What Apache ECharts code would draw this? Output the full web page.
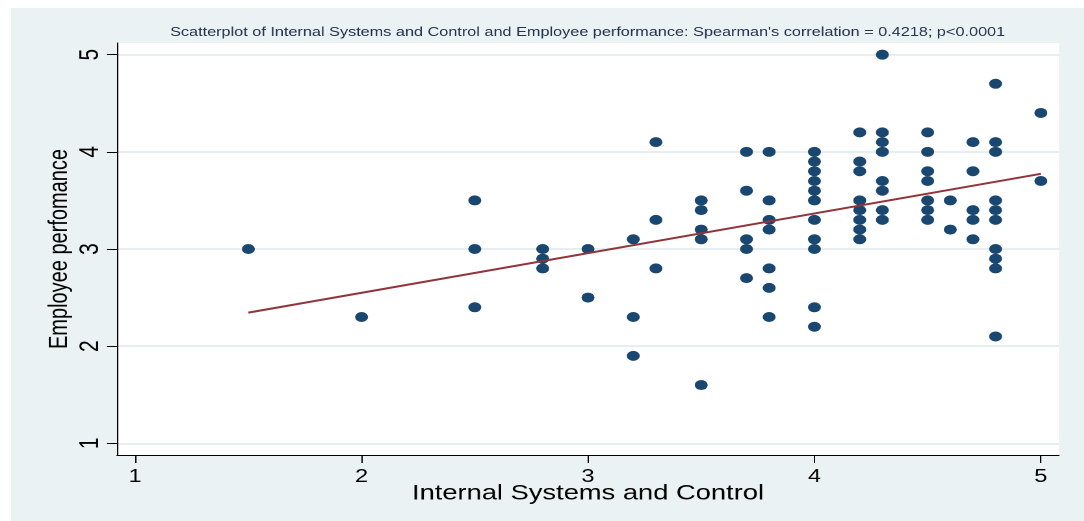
<!DOCTYPE html>
<html>
<head>
<meta charset="utf-8">
<script src="https://cdn.jsdelivr.net/npm/echarts@6/dist/echarts.min.js"></script>
<style>
  html, body { margin: 0; padding: 0; background: #ffffff; overflow: hidden; }
  /* the chart is laid out on a narrower canvas and widened, giving the
     stretched look of the exported figure (round markers become ovals) */
  #chart { width: 834px; height: 521px; transform: scaleX(1.3); transform-origin: 0 0; }
</style>
</head>
<body>
<div id="chart"></div>
<script>
// Internal Systems and Control score of each respondent
const controlScores = [
  1.5,
  2.0,
  2.5, 2.5, 2.5,
  2.8, 2.8, 2.8,
  3.0, 3.0,
  3.2, 3.2, 3.2,
  3.3, 3.3, 3.3,
  3.5, 3.5, 3.5, 3.5, 3.5,
  3.7, 3.7, 3.7, 3.7, 3.7,
  3.8, 3.8, 3.8, 3.8, 3.8, 3.8, 3.8,
  4.0, 4.0, 4.0, 4.0, 4.0, 4.0, 4.0, 4.0, 4.0, 4.0, 4.0,
  4.2, 4.2, 4.2, 4.2, 4.2, 4.2, 4.2, 4.2,
  4.3, 4.3, 4.3, 4.3, 4.3, 4.3, 4.3, 4.3,
  4.5, 4.5, 4.5, 4.5, 4.5, 4.5, 4.5,
  4.6, 4.6,
  4.7, 4.7, 4.7, 4.7, 4.7,
  4.8, 4.8, 4.8, 4.8, 4.8, 4.8, 4.8, 4.8, 4.8, 4.8,
  5.0, 5.0
];

// Employee performance score of the same respondents
const performanceScores = [
  3.0,
  2.3,
  3.5, 3.0, 2.4,
  3.0, 2.9, 2.8,
  3.0, 2.5,
  3.1, 2.3, 1.9,
  4.1, 3.3, 2.8,
  3.5, 3.4, 3.2, 3.1, 1.6,
  4.0, 3.6, 3.1, 3.0, 2.7,
  4.0, 3.5, 3.3, 3.2, 2.8, 2.6, 2.3,
  4.0, 3.9, 3.8, 3.7, 3.6, 3.5, 3.3, 3.1, 3.0, 2.4, 2.2,
  4.2, 3.9, 3.8, 3.5, 3.4, 3.3, 3.2, 3.1,
  5.0, 4.2, 4.1, 4.0, 3.7, 3.6, 3.4, 3.3,
  4.2, 4.0, 3.8, 3.7, 3.5, 3.4, 3.3,
  3.5, 3.2,
  4.1, 3.8, 3.4, 3.3, 3.1,
  4.7, 4.1, 4.0, 3.5, 3.4, 3.3, 3.0, 2.9, 2.8, 2.1,
  4.4, 3.7
];

// Linear fit, drawn between its two end points
const fitX = [1.5, 5.0];
const fitY = [2.345, 3.774];

// Axis tick values
const xTicks = [1, 2, 3, 4, 5];
const yTicks = [1, 2, 3, 4, 5];

const titleText = "Scatterplot of Internal Systems and Control and Employee performance: Spearman's correlation = 0.4218; p<0.0001";

const FONT = "'Liberation Sans', Arial, Helvetica, sans-serif";
const BG = '#eaf2f3';

const chart = echarts.init(document.getElementById('chart'), null, { renderer: 'canvas', devicePixelRatio: 2 });

const scatterData = controlScores.map((x, i) => [x, performanceScores[i]]);
const fitData = fitX.map((x, i) => [x, fitY[i]]);

chart.setOption({
  backgroundColor: BG,
  animation: false,
  title: {
    text: titleText,
    left: 452,
    top: 26,
    textAlign: 'center',
    padding: 0,
    textStyle: { fontFamily: FONT, fontSize: 12.5, fontWeight: 'normal', color: '#24324e' }
  },
  graphic: [
    { type: 'rect', shape: { x: 0, y: 0, width: 834, height: 8 }, style: { fill: '#ffffff' }, silent: true },
    { type: 'rect', shape: { x: 0, y: 0, width: 8.5, height: 521 }, style: { fill: '#ffffff' }, silent: true }
  ],
  grid: {
    left: 90,
    right: 19.4,
    top: 43,
    bottom: 66,
    show: true,
    backgroundColor: '#ffffff',
    borderWidth: 0
  },
  xAxis: {
    type: 'value',
    min: 0.92,
    max: 5.08,
    name: 'Internal Systems and Control',
    nameLocation: 'middle',
    nameGap: 28,
    nameMoveOverlap: false,
    nameTextStyle: { fontFamily: FONT, fontSize: 21, color: '#000000' },
    axisLine: { show: true, onZero: false, lineStyle: { color: '#000000', width: 1 } },
    axisTick: { show: true, length: 8, customValues: xTicks, lineStyle: { color: '#000000', width: 1 } },
    axisLabel: { customValues: xTicks, margin: 13, fontFamily: FONT, fontSize: 18, color: '#000000' },
    splitLine: { show: false }
  },
  yAxis: {
    type: 'value',
    min: 0.88,
    max: 5.12,
    name: 'Employee perfomance',
    nameLocation: 'middle',
    nameRotate: 90,
    nameGap: 34,
    nameMoveOverlap: false,
    nameTextStyle: { fontFamily: FONT, fontSize: 20, color: '#000000' },
    axisLine: { show: true, onZero: false, lineStyle: { color: '#000000', width: 1 } },
    axisTick: { show: true, length: 7.7, customValues: yTicks, lineStyle: { color: '#000000', width: 1 } },
    axisLabel: { customValues: yTicks, rotate: 90, margin: 10, fontFamily: FONT, fontSize: 21, color: '#000000' },
    splitLine: { show: true, lineStyle: { color: '#e6eef0', width: 2 } }
  },
  series: [
    {
      type: 'scatter',
      data: scatterData,
      symbol: 'circle',
      symbolSize: 10,
      itemStyle: { color: '#1a476f', opacity: 1 },
      z: 2
    },
    {
      type: 'line',
      data: fitData,
      symbol: 'none',
      lineStyle: { color: '#90353b', width: 2 },
      z: 3
    }
  ]
});
</script>
</body>
</html>
